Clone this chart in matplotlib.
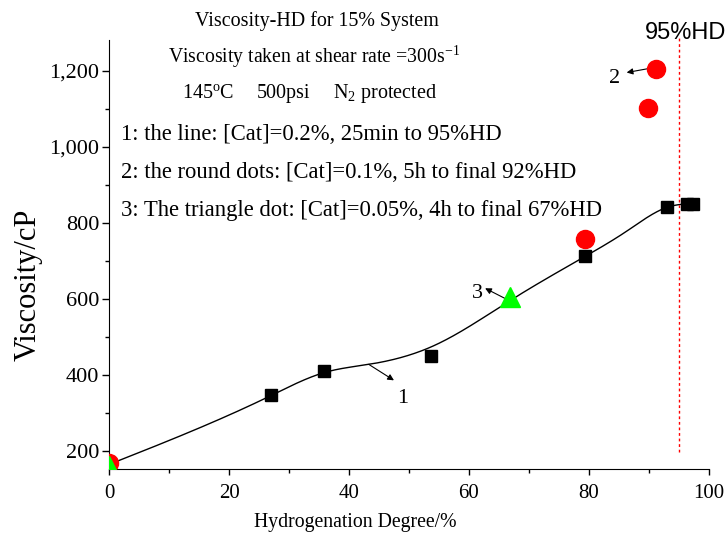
import numpy as np
import matplotlib
matplotlib.use("Agg")
import matplotlib.pyplot as plt
from matplotlib.ticker import FuncFormatter, MultipleLocator

plt.rcParams['font.family'] = ['Liberation Serif', 'DejaVu Serif']
plt.rcParams['mathtext.fontset'] = 'custom'
plt.rcParams['mathtext.rm'] = 'Liberation Serif'
plt.rcParams['mathtext.it'] = 'Liberation Serif:italic'

# Data
line_sq_x = [27.0, 35.8, 53.7, 79.4, 93.1, 96.4, 97.4]
line_sq_y = [347, 411, 449, 712, 841, 850, 850]
curve_x = [0.0, 27.0, 36.0, 43.3, 54.0, 67.0, 79.4, 86.3, 93.1, 97.4]
curve_y = [165, 346, 407, 428, 476, 597, 712, 778, 841, 851]
dots_x = [0.0, 79.3, 89.8, 91.2]
dots_y = [168, 758, 1103, 1203]
tri_x = [0.0, 66.8]
tri_y = [162, 605]


def natural_spline(x, y, xs):
    x = np.asarray(x, float); y = np.asarray(y, float)
    n = len(x)
    h = np.diff(x)
    A = np.zeros((n, n)); b = np.zeros(n)
    A[0, 0] = 1; A[-1, -1] = 1
    for i in range(1, n - 1):
        A[i, i - 1] = h[i - 1]
        A[i, i] = 2 * (h[i - 1] + h[i])
        A[i, i + 1] = h[i]
        b[i] = 6 * ((y[i + 1] - y[i]) / h[i] - (y[i] - y[i - 1]) / h[i - 1])
    M = np.linalg.solve(A, b)
    out = np.empty_like(xs)
    for k, xv in enumerate(xs):
        i = min(max(np.searchsorted(x, xv) - 1, 0), n - 2)
        t0 = x[i + 1] - xv; t1 = xv - x[i]
        out[k] = (M[i] * t0 ** 3 / (6 * h[i]) + M[i + 1] * t1 ** 3 / (6 * h[i])
                  + (y[i] / h[i] - M[i] * h[i] / 6) * t0
                  + (y[i + 1] / h[i] - M[i + 1] * h[i] / 6) * t1)
    return out


fig = plt.figure(figsize=(7.27, 5.36), dpi=100)
ax = fig.add_axes([0.15, 0.125, 0.825, 0.80])

xs = np.linspace(curve_x[0], curve_x[-1], 500)
ax.plot(xs, natural_spline(curve_x, curve_y, xs), color='black', lw=1.0, zorder=2)
ax.plot(line_sq_x, line_sq_y, 's', color='black', ms=8.5, zorder=3)
ax.plot(dots_x, dots_y, 'o', color='#ff0000', ms=13, zorder=4)
ax.plot(tri_x, tri_y, '^', color='#00ff00', ms=15, zorder=5)

ax.set_xlim(0, 100)
ax.set_ylim(153, 1280)
ax.spines['top'].set_visible(False)
ax.spines['right'].set_visible(False)
ax.xaxis.set_major_locator(MultipleLocator(20))
ax.xaxis.set_minor_locator(MultipleLocator(10))
ax.yaxis.set_major_locator(MultipleLocator(200))
ax.yaxis.set_minor_locator(MultipleLocator(100))
ax.yaxis.set_major_formatter(FuncFormatter(lambda v, p: f"{int(v):,}"))
ax.tick_params(axis='x', which='major', direction='out', length=4, width=1, labelsize=15, pad=7)
ax.tick_params(axis='x', which='minor', direction='out', length=3, width=1)
ax.tick_params(axis='y', which='major', direction='out', length=5, width=1, labelsize=16, pad=2)
ax.tick_params(axis='y', which='minor', direction='out', length=3, width=1)
ax.set_xlabel('Hydrogenation Degree/%', fontsize=14.2)
ax.xaxis.set_label_coords(0.41, -0.124)
ax.xaxis.label.set_va('center')
ax.set_ylabel('Viscosity/cP', fontsize=22)
ax.yaxis.set_label_coords(-0.135, 0.43)
ax.yaxis.label.set_va('center')

# 95% HD marker line
ax.plot([95, 95], [197, 1292], color='#ff0000', lw=1, ls=(0, (2, 2)), clip_on=False)
ax.text(89.3, 1300, '95%HD', family=['Liberation Sans', 'DejaVu Sans'], fontsize=17,
        ha='left', va='center')

# Header text
ax.text(0.347, 1.033, 'Viscosity-HD for 15% System', transform=ax.transAxes,
        ha='center', va='baseline', fontsize=14.4)
ax.text(0.342, 0.947, r'Viscosity taken at shear rate =300s$^{\mathrm{-1}}$', transform=ax.transAxes,
        ha='center', va='baseline', fontsize=14.2)
ax.text(12.2, 0.865, r'145$^{\mathrm{o}}$C', transform=ax.get_xaxis_transform(),
        ha='left', va='baseline', fontsize=14.5)
ax.text(24.7, 0.865, '500psi', transform=ax.get_xaxis_transform(),
        ha='left', va='baseline', fontsize=14.5)
ax.text(37.3, 0.865, r'N$_{\mathrm{2}}$ protected', transform=ax.get_xaxis_transform(),
        ha='left', va='baseline', fontsize=14.5)

notes = ['1: the line: [Cat]=0.2%, 25min to 95%HD',
         '2: the round dots: [Cat]=0.1%, 5h to final 92%HD',
         '3: The triangle dot: [Cat]=0.05%, 4h to final 67%HD']
for i, s in enumerate(notes):
    ax.text(2.0, 1032 - i * 100, s, ha='left', va='center', fontsize=16.3)

arrow = dict(arrowstyle='-|>', color='black', lw=0.8, mutation_scale=9, shrinkA=0, shrinkB=0)
ax.annotate('', xy=(47.5, 386), xytext=(43.3, 428), arrowprops=arrow)
ax.text(49.0, 339, '1', ha='center', va='center', fontsize=16)
ax.annotate('', xy=(62.7, 628), xytext=(66.3, 599), arrowprops=arrow)
ax.text(61.4, 615, '3', ha='center', va='center', fontsize=16)
ax.annotate('', xy=(86.3, 1195), xytext=(89.8, 1205), arrowprops=arrow)
ax.text(84.3, 1179, '2', ha='center', va='center', fontsize=16)

fig.savefig('out.png', dpi=100)
